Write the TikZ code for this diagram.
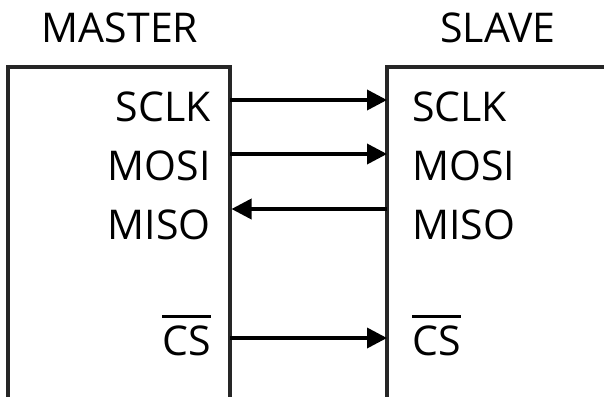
\documentclass[tikz,border=0pt]{standalone}
\usepackage{fontspec}
\setmainfont{Open Sans}
\usetikzlibrary{arrows.meta}
\newsavebox{\ovlbox}
\newcommand{\myovl}[1]{\sbox{\ovlbox}{#1}\leavevmode\rlap{\raisebox{37pt}{\rule{\wd\ovlbox}{3pt}}}\usebox{\ovlbox}}
\begin{document}
\begin{tikzpicture}[x=1pt,y=-1pt,
  lbl/.style={inner sep=0pt,font=\fontsize{41}{48}\selectfont},
  boxline/.style={line width=3.2pt,draw=black!85},
  sig/.style={line width=3.6pt,-{Triangle[length=20pt,width=20pt]}}]
\useasboundingbox (0,0) rectangle (604,396);
% boxes
\draw[boxline] (8,398) -- (8,67) -- (230,67) -- (230,398);
\draw[boxline] (387,398) -- (387,67) -- (606,67);
% titles
\node[lbl,anchor=base] (mt) at (120,43) {MASTER};
\node[lbl,anchor=base] (st) at (498,43) {SLAVE};
% master labels
\node[lbl,anchor=base east] (msclk) at (211,121) {SCLK};
\node[lbl,anchor=base east] (mmosi) at (211,180) {MOSI};
\node[lbl,anchor=base east] (mmiso) at (211,239) {MISO};
\node[lbl,anchor=base east] (mcs) at (211,355) {\myovl{CS}};
% slave labels
\node[lbl,anchor=base west] (ssclk) at (412,121) {SCLK};
\node[lbl,anchor=base west] (smosi) at (412,180) {MOSI};
\node[lbl,anchor=base west] (smiso) at (412,239) {MISO};
\node[lbl,anchor=base west] (scs) at (412,355) {\myovl{CS}};
% pins
\coordinate (pm1) at (230,100); \coordinate (ps1) at (387,100);
\coordinate (pm2) at (230,154); \coordinate (ps2) at (387,154);
\coordinate (pm3) at (231.5,209); \coordinate (ps3) at (387,209);
\coordinate (pm4) at (230,338); \coordinate (ps4) at (387,338);
\draw[sig] (pm1) -- (ps1);
\draw[sig] (pm2) -- (ps2);
\draw[sig] (ps3) -- (pm3);
\draw[sig] (pm4) -- (ps4);
\end{tikzpicture}
\end{document}
